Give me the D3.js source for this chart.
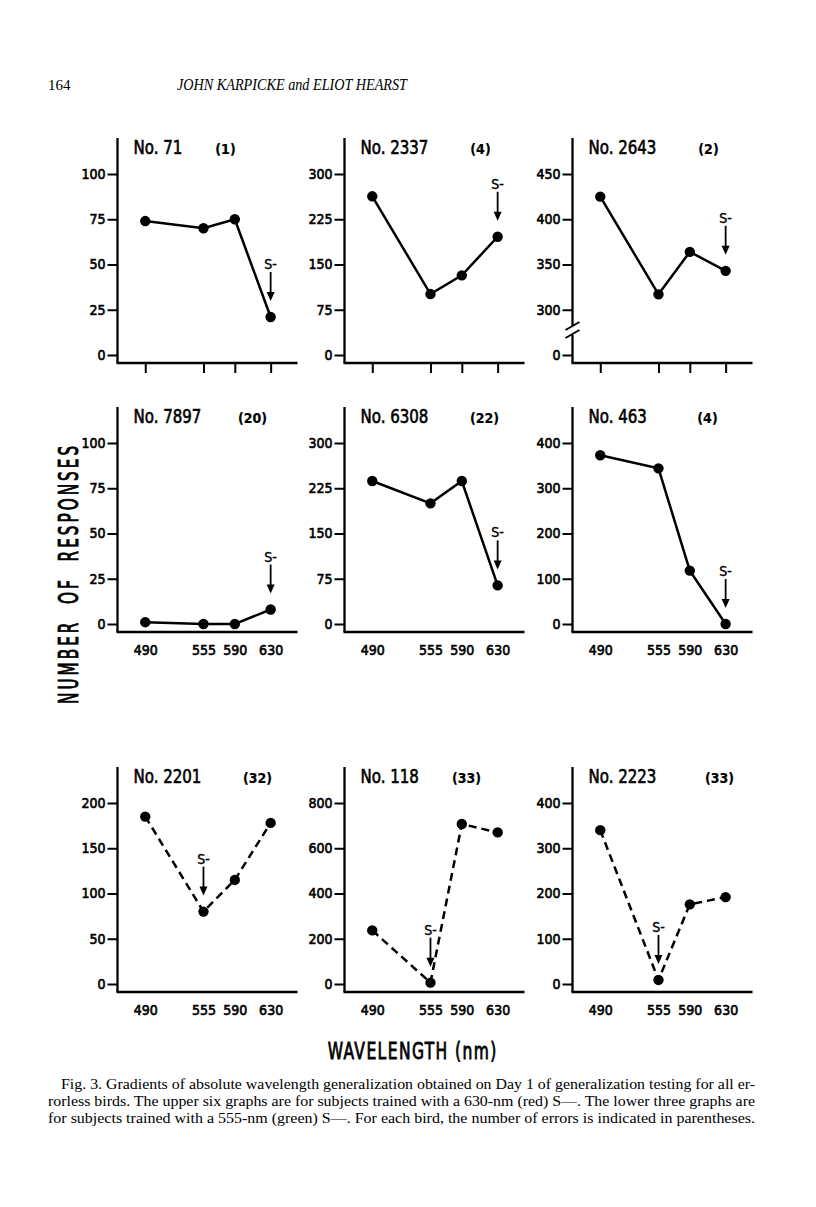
<!DOCTYPE html>
<html>
<head>
<meta charset="utf-8">
<script src="https://cdn.jsdelivr.net/npm/d3@7"></script>
<style>
  html, body { margin: 0; padding: 0; background: #fff; }
  svg { display: block; }
</style>
</head>
<body>
<svg id="chart" width="816" height="1207"></svg>
<script>
// ---------- DATA ----------
const wavelengths = [490, 555, 590, 630];
const subjects = ["No. 71", "No. 2337", "No. 2643", "No. 7897", "No. 6308", "No. 463", "No. 2201", "No. 118", "No. 2223"];
const errorCounts = ["(1)", "(4)", "(2)", "(20)", "(22)", "(4)", "(32)", "(33)", "(33)"];
const sMinus = [630, 630, 630, 630, 630, 630, 555, 555, 555];

const values71   = [74, 70, 75, 21];
const values2337 = [263, 101, 132, 196];
const values2643 = [425, 317, 364, 343];
const values7897 = [1, 0, 0, 8];
const values6308 = [237, 200, 237, 64];
const values463  = [373, 344, 118, 0];
const values2201 = [185, 80, 115, 178];
const values118  = [237, 6, 707, 670];
const values2223 = [340, 9, 176, 192];
const seriesValues = [values71, values2337, values2643, values7897, values6308, values463, values2201, values118, values2223];

const ticks71   = [0, 25, 50, 75, 100];
const ticks2337 = [0, 75, 150, 225, 300];
const ticks2643 = [0, 300, 350, 400, 450];
const ticks7897 = [0, 25, 50, 75, 100];
const ticks6308 = [0, 75, 150, 225, 300];
const ticks463  = [0, 100, 200, 300, 400];
const ticks2201 = [0, 50, 100, 150, 200];
const ticks118  = [0, 200, 400, 600, 800];
const ticks2223 = [0, 100, 200, 300, 400];
const yTickValues = [ticks71, ticks2337, ticks2643, ticks7897, ticks6308, ticks463, ticks2201, ticks118, ticks2223];

const brokenAxis = [false, false, true, false, false, false, false, false, false];
const dashedLine = [false, false, false, false, false, false, true, true, true];
const showXLabels = [false, false, false, true, true, true, true, true, true];

const captionLines = [
  "Fig. 3. Gradients of absolute wavelength generalization obtained on Day 1 of generalization testing for all er-",
  "rorless birds. The upper six graphs are for subjects trained with a 630-nm (red) S\u2014. The lower three graphs are",
  "for subjects trained with a 555-nm (green) S\u2014. For each bird, the number of errors is indicated in parentheses."
];

// ---------- LAYOUT ----------
const colAxisX = [117.5, 344.5, 572.5];
const rowZeroY = [355, 624, 984];
const tickStep = 45.25;
const axisLen = 180;
const errDx = [108, 136, 136, 135, 140, 135, 140, 122, 147];
const LETTER = "'DejaVu Sans Condensed', 'Liberation Sans Narrow', sans-serif";
const SERIF = "'Liberation Serif', 'DejaVu Serif', serif";

const svg = d3.select("#chart");
svg.append("rect").attr("width", 816).attr("height", 1207).attr("fill", "#fff");

function heavy(sel, w) {
  return sel.attr("font-family", LETTER).attr("fill", "#000")
    .attr("stroke", "#000").attr("stroke-width", w).attr("paint-order", "stroke");
}

// header
svg.append("text").attr("x", 48).attr("y", 90).attr("font-family", SERIF).attr("font-size", 15)
  .text("164");
svg.append("text").attr("x", 177).attr("y", 90).attr("font-family", SERIF).attr("font-size", 16)
  .attr("font-style", "italic").attr("textLength", 230).attr("lengthAdjust", "spacingAndGlyphs")
  .text("JOHN KARPICKE and ELIOT HEARST");

// panels
seriesValues.forEach((vals, i) => {
  const ax = colAxisX[i % 3];
  const y0 = rowZeroY[Math.floor(i / 3)];
  const g = svg.append("g");
  const tks = yTickValues[i];

  const x = d3.scaleLinear().domain([459, 660]).range([ax, ax + axisLen]);
  const y = d3.scaleLinear().domain(tks).range(tks.map((d, k) => y0 - k * tickStep));

  const baseY = y0 + 8;
  const topY = y0 - 217;

  // axis lines
  if (brokenAxis[i]) {
    g.append("line").attr("x1", ax).attr("x2", ax).attr("y1", topY).attr("y2", y0 - 29)
      .attr("stroke", "#000").attr("stroke-width", 2.3);
    g.append("line").attr("x1", ax).attr("x2", ax).attr("y1", y0 - 20).attr("y2", baseY)
      .attr("stroke", "#000").attr("stroke-width", 2.3);
    [-29, -21].forEach(off => {
      g.append("line").attr("x1", ax - 7).attr("x2", ax + 7)
        .attr("y1", y0 + off + 4).attr("y2", y0 + off - 4)
        .attr("stroke", "#000").attr("stroke-width", 2);
    });
  } else {
    g.append("line").attr("x1", ax).attr("x2", ax).attr("y1", topY).attr("y2", baseY)
      .attr("stroke", "#000").attr("stroke-width", 2.3);
  }
  g.append("line").attr("x1", ax - 1).attr("x2", ax + axisLen).attr("y1", baseY).attr("y2", baseY)
    .attr("stroke", "#000").attr("stroke-width", 2.3);

  // y axis ticks
  const ya = g.append("g").attr("transform", `translate(${ax},0)`)
    .call(d3.axisLeft(y).tickValues(tks).tickSize(10).tickPadding(2).tickFormat(d3.format("d")));
  ya.select(".domain").remove();
  ya.selectAll(".tick line").attr("stroke", "#000").attr("stroke-width", 2);
  heavy(ya.selectAll(".tick text").attr("font-size", 14), 0.6);

  // x axis
  const xa = g.append("g").attr("transform", `translate(0,${baseY})`)
    .call(d3.axisBottom(x).tickValues(wavelengths)
      .tickSize(showXLabels[i] ? 0 : 10).tickPadding(13)
      .tickFormat(showXLabels[i] ? d3.format("d") : () => ""));
  xa.select(".domain").remove();
  xa.selectAll(".tick line").attr("stroke", "#000").attr("stroke-width", 2);
  heavy(xa.selectAll(".tick text").attr("font-size", 14), 0.6);

  // line
  const pts = wavelengths.map((w, k) => [w, vals[k]]);
  g.append("path").datum(pts)
    .attr("d", d3.line().x(d => x(d[0])).y(d => y(d[1])))
    .attr("fill", "none").attr("stroke", "#000").attr("stroke-width", 2.5)
    .attr("stroke-dasharray", dashedLine[i] ? "8,5" : null);
  g.selectAll("circle.pt").data(pts).enter().append("circle")
    .attr("cx", d => x(d[0])).attr("cy", d => y(d[1])).attr("r", 5.2).attr("fill", "#000");

  // S- marker
  const sIdx = wavelengths.indexOf(sMinus[i]);
  const sx = x(sMinus[i]);
  const sy = y(vals[sIdx]);
  g.append("line").attr("x1", sx).attr("x2", sx).attr("y1", sy - 45).attr("y2", sy - 24)
    .attr("stroke", "#000").attr("stroke-width", 1.8);
  g.append("path")
    .attr("d", `M${sx - 4},${sy - 25} L${sx + 4},${sy - 25} L${sx},${sy - 16} Z`)
    .attr("fill", "#000");
  heavy(g.append("text").attr("x", sx).attr("y", sy - 48).attr("text-anchor", "middle")
    .attr("font-size", 14).text("S-"), 0.4);

  // titles
  heavy(g.append("text")
    .attr("transform", `translate(${ax + 16},${y0 - 201}) scale(0.88,1)`)
    .attr("font-size", 19).text(subjects[i]), 0.6);
  heavy(g.append("text").attr("x", ax + errDx[i]).attr("y", y0 - 201).attr("text-anchor", "middle")
    .attr("font-size", 14).attr("font-weight", "bold").text(errorCounts[i]), 0.2);
});

// axis titles
heavy(svg.append("text")
  .attr("transform", "translate(78,575) rotate(-90) scale(0.65,1)")
  .attr("text-anchor", "middle")
  .attr("font-size", 26)
  .attr("textLength", 397).attr("lengthAdjust", "spacing")
  .text("NUMBER\u00a0\u00a0OF\u00a0\u00a0RESPONSES"), 0.9);
heavy(svg.append("text")
  .attr("transform", "translate(412,1059) scale(0.75,1)")
  .attr("text-anchor", "middle")
  .attr("font-size", 23)
  .attr("textLength", 225).attr("lengthAdjust", "spacing")
  .text("WAVELENGTH (nm)"), 0.8);

// caption
const capX = [61, 48, 48];
const capLen = [694, 707, 707];
captionLines.forEach((t, k) => {
  svg.append("text").attr("x", capX[k]).attr("y", 1089 + k * 17)
    .attr("font-family", SERIF).attr("font-size", 14.5)
    .attr("textLength", capLen[k]).attr("lengthAdjust", "spacingAndGlyphs")
    .text(t);
});
</script>
</body>
</html>
